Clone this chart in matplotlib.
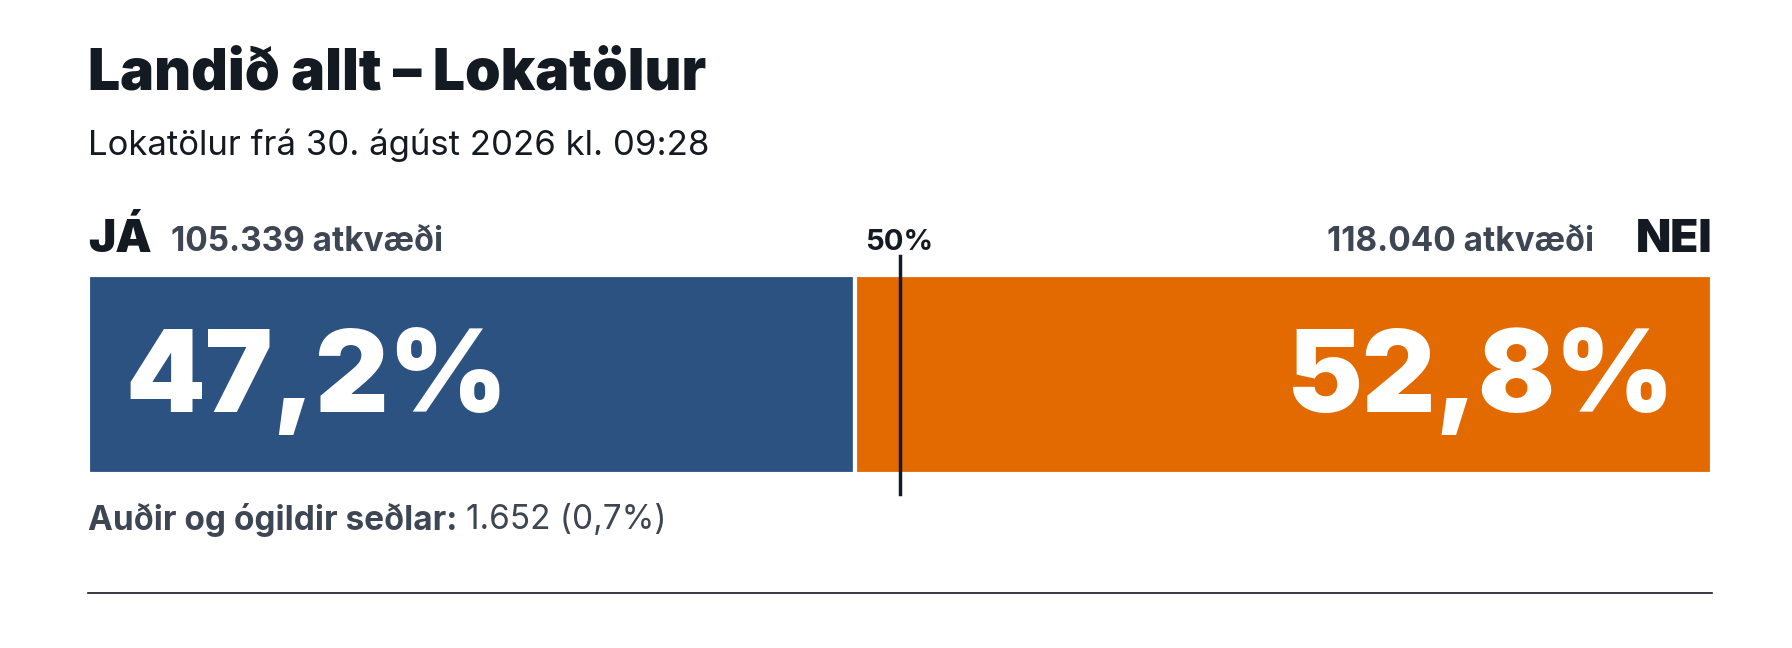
import matplotlib.pyplot as plt

plt.rcParams['font.family'] = ['Inter', 'DejaVu Sans']

# results
labels = ["JÁ", "NEI"]
votes = ["105.339", "118.040"]
shares = [47.2, 52.8]
share_text = ["47,2%", "52,8%"]
colors = ["#2c5282", "#e36a00"]
invalid = "1.652 (0,7%)"

W, H = 1568, 567  # reference layout units
ink = "#141a22"
grey = "#3d4652"

fig = plt.figure(figsize=(17.92, 6.48), dpi=100)


def fx(x):
    return x / W


def fy(y):
    return 1 - y / H


def put(x, y, s, **kw):
    return fig.text(fx(x), fy(y), s, **kw)


put(77, 65, "Landið allt – Lokatölur", fontsize=41, fontweight='black', color=ink, va='center')
put(77, 127, "Lokatölur frá 30. ágúst 2026 kl. 09:28", fontsize=25, color=ink, va='center')

put(77, 210, labels[0], fontsize=33, fontweight='black', color=ink, va='center')
put(150, 212, votes[0] + " atkvæði", fontsize=24, fontweight='bold', color=grey, va='center')
put(1498, 210, labels[1], fontsize=33, fontweight='black', color=ink, va='center', ha='right')
put(1395, 212, votes[1] + " atkvæði", fontsize=24, fontweight='bold', color=grey, va='center', ha='right')
put(787, 212, "50%", fontsize=21, fontweight='bold', color=ink, va='center', ha='center')

ax = fig.add_axes([fx(77), fy(415), fx(1498) - fx(77), (415 - 241) / H])
ax.barh(0, shares[0], height=1, color=colors[0], edgecolor='white', linewidth=3)
ax.barh(0, shares[1], left=shares[0], height=1, color=colors[1], edgecolor='white', linewidth=3)
ax.set_xlim(0, 100)
ax.set_ylim(-0.5, 0.5)
ax.axis('off')
ax.plot([50, 50], [-0.6, 0.6], color=ink, lw=2.5, clip_on=False)
ax.text(2.3, -0.03, share_text[0], fontsize=82, fontweight='black', color='white', va='center')
ax.text(97.7, -0.03, share_text[1], fontsize=82, fontweight='black', color='white', va='center', ha='right')

t = put(77, 455, "Auðir og ógildir seðlar:", fontsize=24, fontweight='bold', color=grey, va='center')
fig.text(0, 0, invalid, fontsize=24, color=grey, va='center')
fig.texts[-1].remove()
ax.annotate(invalid, xy=(1, 0.5), xycoords=t, xytext=(6, 0), textcoords='offset points',
            fontsize=24, color=grey, va='center')

fig.add_artist(plt.Line2D([fx(77), fx(1498)], [fy(519), fy(519)], color=ink, lw=1.2))

fig.savefig("out.png", dpi=100, facecolor='white')
